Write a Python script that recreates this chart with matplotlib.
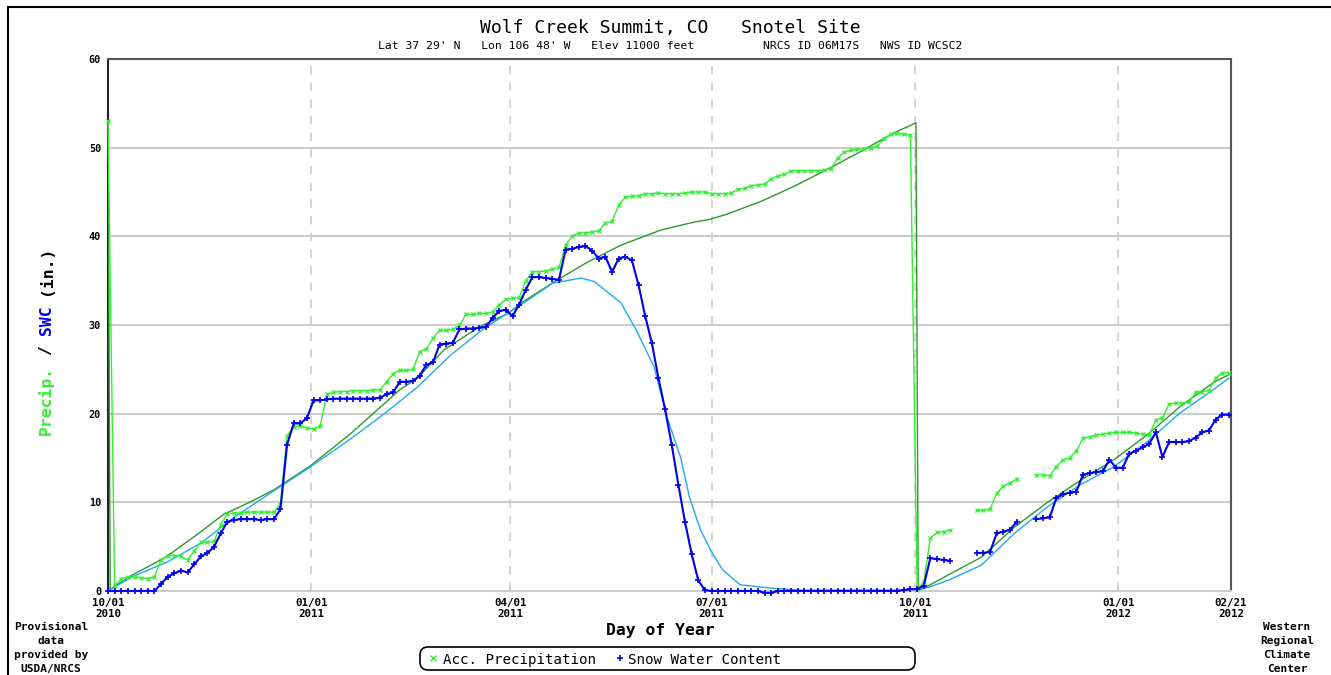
import numpy as np
import matplotlib
matplotlib.use("agg")
import matplotlib.pyplot as plt
from matplotlib.patches import FancyBboxPatch
from matplotlib.lines import Line2D
from matplotlib.transforms import IdentityTransform

nan = np.nan

# days since 2010-10-01, one reading every 3 days
days = np.arange(0, 508, 3)

acc_precip = [
    53.0, 0.6, 1.4, 1.6, 1.6, 1.5, 1.4, 1.6, 3.5, 4.0,
    4.0, 3.9, 3.5, 4.5, 5.5, 5.5, 5.6, 7.5, 8.7, 8.8,
    8.8, 8.9, 8.9, 8.9, 8.9, 8.9, 9.8, 17.5, 18.5, 18.6,
    18.4, 18.3, 18.6, 22.2, 22.4, 22.5, 22.5, 22.6, 22.6, 22.6,
    22.7, 22.7, 23.6, 24.5, 24.9, 24.9, 25.0, 27.0, 27.3, 28.5,
    29.4, 29.4, 29.5, 30.0, 31.2, 31.2, 31.3, 31.3, 31.5, 32.3,
    32.9, 33.0, 33.1, 35.0, 36.0, 36.0, 36.1, 36.3, 36.5, 39.0,
    40.0, 40.4, 40.4, 40.5, 40.6, 41.5, 41.7, 43.5, 44.4, 44.5,
    44.6, 44.8, 44.8, 44.9, 44.8, 44.8, 44.8, 44.9, 45.0, 45.0,
    45.0, 44.8, 44.8, 44.8, 44.9, 45.3, 45.4, 45.7, 45.8, 45.9,
    46.5, 46.8, 47.0, 47.4, 47.4, 47.4, 47.4, 47.4, 47.5, 47.6,
    48.8, 49.5, 49.7, 49.8, 49.9, 50.0, 50.2, 51.0, 51.5, 51.6,
    51.5, 51.4, 0.1, 1.0, 6.0, 6.6, 6.7, 6.9, nan, nan,
    nan, 9.1, 9.1, 9.2, 11.0, 11.8, 12.2, 12.6, nan, nan,
    13.1, 13.1, 13.0, 14.0, 14.8, 15.0, 15.8, 17.2, 17.4, 17.6,
    17.7, 17.8, 17.9, 17.9, 17.9, 17.8, 17.7, 17.6, 19.3, 19.5,
    21.1, 21.2, 21.2, 21.3, 22.4, 22.5, 22.6, 24.0, 24.6, 24.6,
]

swc = [
    0.0, 0.0, 0.0, 0.0, 0.0, 0.0, 0.0, 0.0, 0.8, 1.6,
    2.0, 2.3, 2.1, 3.0, 3.9, 4.3, 5.0, 6.5, 7.8, 8.0,
    8.1, 8.1, 8.1, 8.0, 8.1, 8.1, 9.2, 16.5, 18.9, 18.9,
    19.5, 21.5, 21.5, 21.6, 21.7, 21.7, 21.7, 21.7, 21.7, 21.7,
    21.7, 21.8, 22.2, 22.4, 23.6, 23.6, 23.7, 24.3, 25.5, 25.8,
    27.8, 27.9, 28.0, 29.5, 29.6, 29.6, 29.7, 29.8, 30.8, 31.6,
    31.7, 31.0, 32.3, 34.0, 35.4, 35.4, 35.3, 35.2, 35.1, 38.5,
    38.6, 38.8, 38.9, 38.4, 37.5, 37.7, 36.0, 37.5, 37.7, 37.3,
    34.5, 31.0, 28.0, 24.0, 20.5, 16.5, 12.0, 7.8, 4.2, 1.2,
    0.1, 0.0, 0.0, 0.0, 0.0, 0.0, 0.0, 0.0, 0.0, -0.2,
    -0.2, 0.0, 0.0, 0.0, 0.0, 0.0, 0.0, 0.0, 0.0, 0.0,
    0.0, 0.0, 0.0, 0.0, 0.0, 0.0, 0.0, 0.0, 0.0, 0.0,
    0.1, 0.2, 0.2, 0.6, 3.7, 3.6, 3.5, 3.4, nan, nan,
    nan, 4.3, 4.3, 4.4, 6.5, 6.7, 6.9, 7.8, nan, nan,
    8.1, 8.2, 8.3, 10.5, 10.9, 11.1, 11.2, 13.1, 13.3, 13.4,
    13.5, 14.8, 13.9, 13.9, 15.5, 15.8, 16.2, 16.6, 17.9, 15.1,
    16.8, 16.8, 16.8, 16.9, 17.3, 17.9, 18.1, 19.3, 19.9, 19.9,
]

# average (normal) curves
avg_precip_days = [0, 1, 11, 26, 41, 52, 64, 75, 92, 110, 132, 140, 152, 168, 181,
                   187, 202, 217, 232, 250, 265, 272, 280, 295, 310, 325, 340, 355,
                   365.5, 366.5, 369, 380, 395, 410, 425, 440, 455, 470, 485, 500, 507]
avg_precip = [53.0, 0.2, 1.8, 3.8, 6.5, 8.6, 10.0, 11.4, 14.2, 17.8, 22.7, 24.0, 27.2,
              29.8, 31.3, 32.5, 34.9, 37.1, 39.0, 40.7, 41.6, 41.9, 42.5, 43.9, 45.6,
              47.5, 49.5, 51.6, 52.8, 0.1, 0.3, 1.8, 3.8, 7.2, 10.0, 12.5, 14.8, 17.6,
              20.8, 23.5, 24.4]

avg_swc_days = [0, 2, 11, 27, 42, 57, 72, 91, 110, 124, 140, 155, 170, 187, 201, 214,
                220, 232, 239, 247, 253, 259, 263, 268, 273, 278, 286, 301, 313, 358,
                371, 380, 395, 410, 425, 440, 455, 470, 485, 500, 507]
avg_swc = [0.0, 0.3, 1.6, 3.3, 5.4, 8.3, 10.8, 13.9, 17.2, 19.8, 23.0, 26.6, 29.6,
           32.3, 34.7, 35.3, 34.9, 32.5, 29.4, 25.3, 19.5, 15.1, 10.6, 6.9, 4.4, 2.4,
           0.7, 0.3, 0.1, 0.1, 0.4, 1.2, 2.9, 6.5, 9.5, 12.0, 14.0, 16.8, 20.1, 22.7,
           24.0]

tick_days = [0, 92, 182, 273, 365, 457, 508]
tick_labels = ['10/01\n2010', '01/01\n2011', '04/01\n2011', '07/01\n2011',
               '10/01\n2011', '01/01\n2012', '02/21\n2012']

GREEN = '#33ee33'
BLUE = '#0000ee'
DKGREEN = '#2a9a2a'
SKY = '#22aaee'
MONO = 'DejaVu Sans Mono'

W, H = 1331, 675
fig = plt.figure(figsize=(W / 100, H / 100), dpi=100)


def fx(x):
    return x / W


def fy(y):
    return 1 - y / H


ax = fig.add_axes([fx(108), fy(591), (1231 - 108) / W, (591 - 59) / H])

ax.plot(avg_precip_days, avg_precip, color=DKGREEN, lw=1, zorder=3)
ax.plot(avg_swc_days, avg_swc, color=SKY, lw=1, zorder=3)
ax.plot(days, acc_precip, color=GREEN, lw=1, marker='x', ms=3.5, mew=0.9, zorder=4,
        clip_on=False)
ax.plot(days, swc, color=BLUE, lw=1.5, marker='+', ms=5, mew=1.2, zorder=5,
        clip_on=False)

ax.set_xlim(0, 508)
ax.set_ylim(0, 60)
ax.set_xticks(tick_days)
ax.set_xticklabels(tick_labels, fontfamily=MONO, fontweight='bold', fontsize=7.8,
                   linespacing=1.1)
ax.set_yticks(range(0, 61, 10))
ax.set_yticklabels([str(v) for v in range(0, 61, 10)], fontfamily=MONO,
                   fontweight='bold', fontsize=7.3)
ax.tick_params(length=0, pad=5)

for v in range(10, 60, 10):
    ax.axhline(v, color='#cccccc', lw=1.5, zorder=1)
for d in tick_days[1:-1]:
    ax.axvline(d, color='#cccccc', lw=1.2, ls=(0, (5, 5)), zorder=1)

ax.spines['top'].set_color('#555555')
ax.spines['right'].set_color('#555555')
ax.spines['left'].set_color('#222222')
ax.spines['bottom'].set_color('#cccccc')
for s in ax.spines.values():
    s.set_linewidth(1.5)

# titles
fig.text(fx(670), fy(28), 'Wolf Creek Summit, CO   Snotel Site', ha='center',
         va='center', fontsize=13, family=MONO)
fig.text(fx(670), fy(46),
         "Lat 37 29' N   Lon 106 48' W   Elev 11000 feet          "
         "NRCS ID 06M17S   NWS ID WCSC2",
         ha='center', va='center', fontsize=8.2, family=MONO)

# y label in pieces, monospace so each character is the same height
cw = 10.0
y0 = 435
for start, piece, col in [(0, 'Precip.', GREEN), (8, '/', 'black'),
                          (10, 'SWC', BLUE), (14, '(in.)', 'black')]:
    yc = y0 - (start + len(piece) / 2) * cw
    fig.text(fx(46), fy(yc), piece, rotation=90, ha='center', va='center',
             fontsize=11.8, fontweight='bold', family=MONO, color=col)

fig.text(fx(660), fy(631), 'Day of Year', ha='center', va='center',
         fontsize=11.8, fontweight='bold', family=MONO)

fig.text(fx(51), fy(648), 'Provisional\ndata\nprovided by\nUSDA/NRCS', ha='center',
         va='center', fontsize=8, fontweight='bold', family=MONO, linespacing=1.5)
fig.text(fx(1287), fy(648), 'Western\nRegional\nClimate\nCenter', ha='center',
         va='center', fontsize=8, fontweight='bold', family=MONO, linespacing=1.5)

# legend drawn by hand
box = FancyBboxPatch((420, H - 670), 495, 23, boxstyle='round,pad=0,rounding_size=8',
                     transform=IdentityTransform(), fc='white', ec='black', lw=1.2)
fig.add_artist(box)
fig.add_artist(Line2D([433], [H - 658], marker='x', ms=4, mew=1, color=GREEN,
                      transform=IdentityTransform()))
fig.text(fx(443), fy(660), 'Acc. Precipitation', ha='left', va='center',
         fontsize=10.2, family=MONO)
fig.add_artist(Line2D([620], [H - 658], marker='+', ms=5, mew=1.2, color=BLUE,
                      transform=IdentityTransform()))
fig.text(fx(628), fy(660), 'Snow Water Content', ha='left', va='center',
         fontsize=10.2, family=MONO)

# outer frame (top and left edge of the image)
fig.add_artist(Line2D([8, W], [H - 7, H - 7], color='black', lw=1.5,
                      transform=IdentityTransform()))
fig.add_artist(Line2D([8, 8], [H - 7, 0], color='black', lw=1.5,
                      transform=IdentityTransform()))

plt.savefig('out.png', dpi=100)
